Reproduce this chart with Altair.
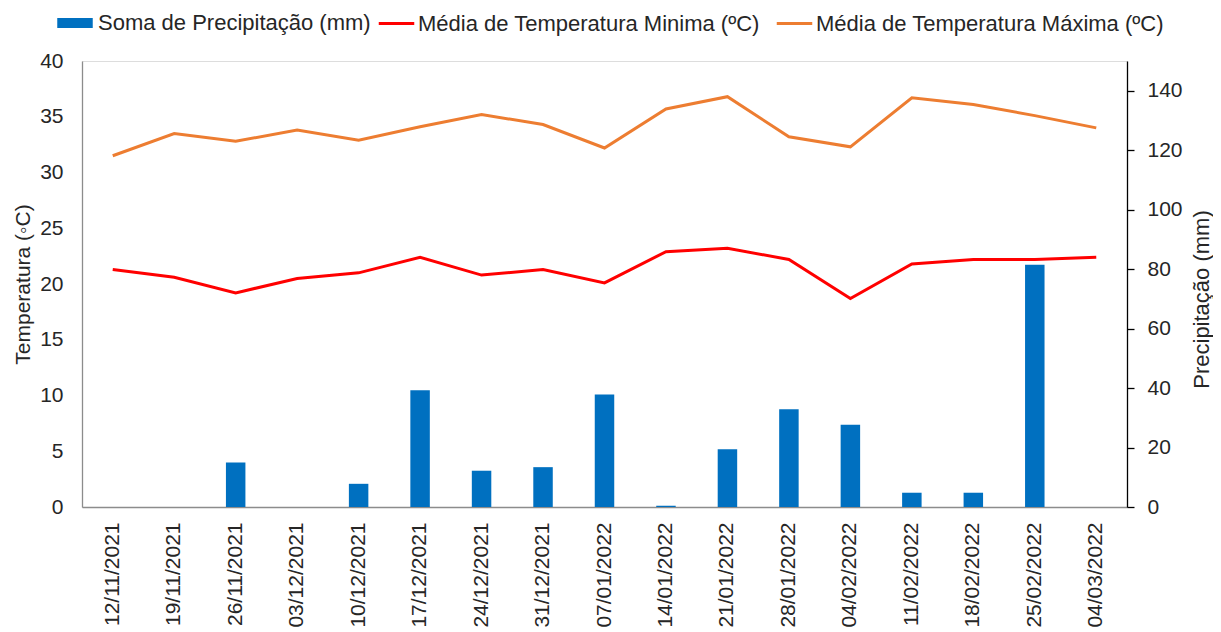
import altair as alt
import pandas as pd

dates = ["12/11/2021", "19/11/2021", "26/11/2021", "03/12/2021", "10/12/2021",
         "17/12/2021", "24/12/2021", "31/12/2021", "07/01/2022", "14/01/2022",
         "21/01/2022", "28/01/2022", "04/02/2022", "11/02/2022", "18/02/2022",
         "25/02/2022", "04/03/2022"]
precip = [0, 0, 15.0, 0, 7.8, 39.3, 12.2, 13.4, 37.8, 0.4, 19.4, 32.9, 27.7, 4.8, 4.8, 81.5, 0]
tmin = [21.3, 20.6, 19.2, 20.5, 21.0, 22.4, 20.8, 21.3, 20.1, 22.9, 23.2, 22.2, 18.7, 21.8, 22.2, 22.2, 22.4]
tmax = [31.5, 33.5, 32.8, 33.8, 32.9, 34.1, 35.2, 34.3, 32.2, 35.7, 36.8, 33.2, 32.3, 36.7, 36.1, 35.1, 34.0]

S_P = "Soma de Precipitação (mm)"
S_MIN = "Média de Temperatura Minima (ºC)"
S_MAX = "Média de Temperatura Máxima (ºC)"

FONT = "Liberation Sans"
TXT = "#262626"
LEG_FS = 22

idx = list(range(len(dates)))
bars_df = pd.DataFrame({"data": dates, "i": idx, "valor": precip, "serie": S_P})
min_df = pd.DataFrame({"data": dates, "i": idx, "temp": tmin, "serie": S_MIN})
max_df = pd.DataFrame({"data": dates, "i": idx, "temp": tmax, "serie": S_MAX})

xenc = alt.X("data:N", sort=dates, title=None,
             scale=alt.Scale(paddingInner=0.683, paddingOuter=0.3415),
             axis=alt.Axis(labelAngle=270, ticks=False, labelPadding=15,
                           domainColor="#8c8c8c", domainWidth=1.3,
                           labelFontSize=21, labelFont=FONT, labelColor=TXT))


def leg(x, y, stype, swidth, offset, scolor=None):
    kw = dict(orient="none", legendX=x, legendY=y, direction="horizontal", title=None,
              symbolType=stype, symbolSize=1260, symbolStrokeWidth=swidth,
              labelOffset=offset, padding=0, labelFontSize=LEG_FS, labelFont=FONT,
              labelColor=TXT, labelLimit=600)
    if scolor:
        kw["symbolStrokeColor"] = scolor
    return alt.Legend(**kw)


bars = alt.Chart(bars_df).mark_bar(color="#0070C0").encode(
    x=xenc,
    y=alt.Y("valor:Q", scale=alt.Scale(domain=[0, 150], nice=False),
            title="Precipitação (mm)",
            axis=alt.Axis(orient="right", values=[0, 20, 40, 60, 80, 100, 120, 140],
                          grid=False, tickSize=7, tickColor="#000", domainColor="#000",
                          domainWidth=1.3, tickWidth=1.3,
                          labelPadding=13, labelFontSize=21, labelFont=FONT, labelColor=TXT,
                          titleFontSize=22, titleFont=FONT, titleColor=TXT,
                          titleFontWeight="normal", titleAngle=270, titleBaseline="top",
                          titlePadding=9, titleY=238)),
    fill=alt.Fill("serie:N", scale=alt.Scale(domain=[S_P], range=["#0070C0"]),
                  legend=leg(-30, -61, "stroke", 10, 0, "#0070C0")),
)

yleft = alt.Y("temp:Q", scale=alt.Scale(domain=[0, 40], nice=False),
              title="Temperatura (◦C)",
              axis=alt.Axis(orient="left", values=[0, 5, 10, 15, 20, 25, 30, 35, 40],
                            grid=False, ticks=False, domainColor="#8c8c8c", domainWidth=1.3,
                            labelPadding=19, labelFontSize=21, labelFont=FONT, labelColor=TXT,
                            titleFontSize=21, titleFont=FONT, titleColor=TXT,
                            titleFontWeight="normal", titlePadding=6))

line_min = alt.Chart(min_df).mark_line(strokeWidth=3).encode(
    x=xenc, y=yleft,
    stroke=alt.Stroke("serie:N", scale=alt.Scale(domain=[S_MIN], range=["#FF0000"]),
                      legend=leg(295, -57, "stroke", 3, 2)),
    order=alt.Order("i:Q"),
)

line_max = alt.Chart(max_df).mark_line(strokeWidth=3).encode(
    x=xenc, y=yleft,
    stroke=alt.Stroke("serie:N", scale=alt.Scale(domain=[S_MAX], range=["#ED7D31"]),
                      legend=leg(693, -57, "stroke", 3, 2)),
    order=alt.Order("i:Q"),
)

temps = alt.layer(line_min, line_max).resolve_scale(stroke="independent")

chart = alt.layer(bars, temps).resolve_scale(
    y="independent", fill="independent", stroke="independent"
).properties(
    width=1045, height=446,
    autosize=alt.AutoSizeParams(type="none"),
    padding={"left": 74, "top": 53, "right": 86, "bottom": 123},
).configure_view(stroke=None).configure(background="white")

chart.save("out.html", embed_options={"renderer": "svg", "actions": False})
